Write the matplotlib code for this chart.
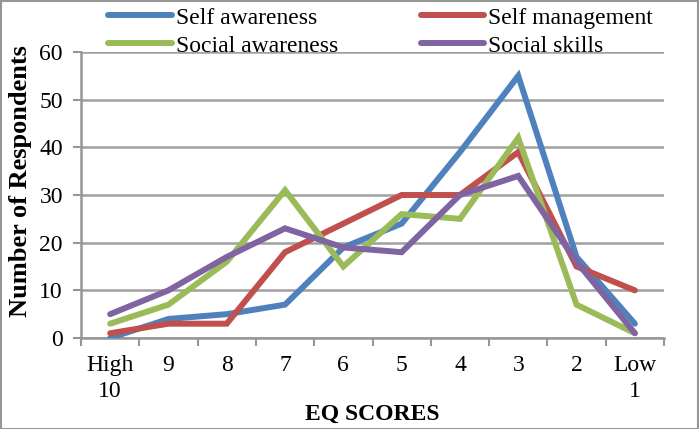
import matplotlib
matplotlib.use('Agg')
import matplotlib.pyplot as plt
from matplotlib.patches import Rectangle

plt.rcParams['font.family'] = ['Liberation Serif', 'DejaVu Serif']

# EQ score categories, high to low
categories = ['High\n10', '9', '8', '7', '6', '5', '4', '3', '2', 'Low\n1']
self_awareness = [0, 4, 5, 7, 19, 24, 39, 55, 17, 3]
self_management = [1, 3, 3, 18, 24, 30, 30, 39, 15, 10]
social_awareness = [3, 7, 16, 31, 15, 26, 25, 42, 7, 1]
social_skills = [5, 10, 17, 23, 19, 18, 30, 34, 16, 1]

series = [('Self awareness', self_awareness, '#4F81BD'),
          ('Self management', self_management, '#C0504D'),
          ('Social awareness', social_awareness, '#9BBB59'),
          ('Social skills', social_skills, '#8064A2')]

fig = plt.figure(figsize=(6.99, 4.29), dpi=100)
ax = fig.add_axes([81/699, 1-338/429, (664-81)/699, (338-52)/429])

xs = [i + 0.5 for i in range(len(categories))]
lines = {}
for name, vals, col in series:
    lines[name], = ax.plot(xs, vals, color=col, lw=4.3, label=name, solid_capstyle='round',
                           solid_joinstyle='miter', zorder=3)

ax.set_xlim(0, len(categories))
ax.set_ylim(0, 60)
ax.set_yticks(range(0, 61, 10))
ax.set_xticks(range(0, len(categories) + 1))
ax.set_xticklabels([])
ax.set_xticks(xs, minor=True)
ax.set_xticklabels(categories, minor=True, fontsize=17, linespacing=1.35)
ax.tick_params(axis='x', which='minor', length=0, pad=12)
ax.tick_params(axis='x', which='major', length=6, width=1.5, color='#969696')
ax.tick_params(axis='y', length=6, width=1.5, color='#969696', labelsize=17, pad=7)
ax.grid(axis='y', color='#a0a0a0', lw=1.8, zorder=1)
for s in ['top', 'right']:
    ax.spines[s].set_visible(False)
for s in ['left', 'bottom']:
    ax.spines[s].set_color('#969696')
    ax.spines[s].set_linewidth(1.8)

ax.set_xlabel('EQ SCORES', fontsize=17, fontweight='bold', labelpad=1)
ax.set_ylabel('Number of Respondents', fontsize=19, fontweight='bold')
ax.yaxis.set_label_coords(-0.084, 0.55)

# legend: row 1 Self awareness / Self management, row 2 Social awareness / Social skills
order = ['Self awareness', 'Social awareness', 'Self management', 'Social skills']
leg = ax.legend([lines[n] for n in order], order, loc='upper left',
                bbox_to_anchor=(108/699, 1-7/429), bbox_transform=fig.transFigure,
                ncol=2, frameon=False, fontsize=17, handlelength=2.7, handletextpad=0.17,
                columnspacing=3.5, labelspacing=0.28, borderaxespad=0, borderpad=0)

fig.patches.append(Rectangle((0.001, 0.001), 0.997, 0.997, transform=fig.transFigure,
                             fill=False, edgecolor='#969696', lw=1.5))

fig.savefig('out.png', dpi=100)
